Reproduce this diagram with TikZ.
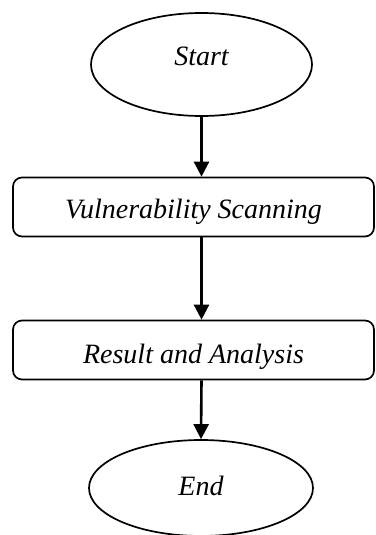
\documentclass[tikz,border=0pt]{standalone}
\usepackage{fontspec}
\setmainfont{Liberation Serif}
\usetikzlibrary{shapes.geometric,arrows.meta}
\begin{document}
\begin{tikzpicture}[x=1pt,y=-1pt,
  txt/.style={font=\fontsize{28}{30}\selectfont\itshape,text depth=0pt},
  terminal/.style={txt,draw,line width=1.7pt,ellipse,inner sep=0pt,minimum width=221pt,minimum height=103pt},
  stepbox/.style={txt,draw,line width=1.7pt,rounded corners=9pt,inner sep=0pt,minimum width=361pt,minimum height=59pt},
  flow/.style={line width=2.6pt,-{Triangle[length=15pt,width=15pt]}}]
  \useasboundingbox (0,0) rectangle (375,535);
  \clip (0,0) rectangle (375,535);
  % flowchart nodes (text height sets the baseline within each shape)
  \node[terminal, text height=3pt] (start) at (201.5,64.5) {Start};
  \node[stepbox, text height=22pt]  (scan)  at (193.5,207) {Vulnerability Scanning};
  \node[stepbox, text height=26pt]  (res)   at (193.5,350) {Result and Analysis};
  \node[terminal, text height=14pt, minimum width=224pt, minimum height=96pt] (end) at (201,488) {End};
  % connectors
  \draw[flow] (start.south) -- (start.south |- scan.north);
  \draw[flow] (start.south |- scan.south) -- (start.south |- res.north);
  \draw[flow] (start.south |- res.south) -- (end.north);
\end{tikzpicture}
\end{document}
